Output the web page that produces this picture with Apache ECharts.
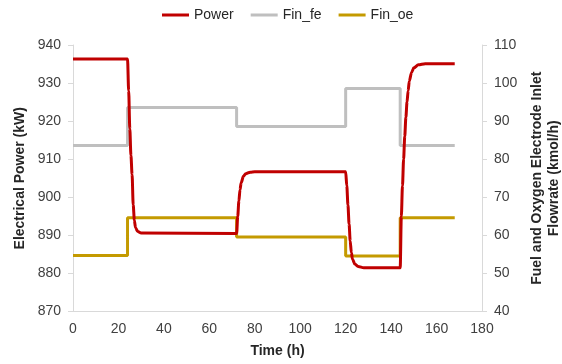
<!DOCTYPE html>
<html><head><meta charset="utf-8">
<script src="https://cdn.jsdelivr.net/npm/echarts@6/dist/echarts.min.js"></script>
<style>html,body{margin:0;padding:0;background:#fff}#c{width:562px;height:364px}</style>
</head><body><div id="c"></div>
<script>
// Power (kW) readings: [time h, kW]
const powerTime = [0,24,24.5,25,25.5,26,26.5,27,27.5,28.5,30,72,72.5,73,73.5,74,75,76,78,80,120,120.5,121,121.5,122,122.5,123,124,125.5,128,144,144.5,145,145.5,146,146.5,147,147.5,148,149,150,152,155,168];
const powerVal  = [936.3,936.3,928,918,911,906,898,894,892,891,890.6,890.5,895,899,902,903.8,905.5,906.2,906.6,906.7,906.7,903,898,893,888.5,885.5,883.8,882.5,881.8,881.5,881.5,895,903,910,916,921,925,928,930.5,932.8,934,934.8,935.1,935.1];
// Flowrates (kmol/h), step changes at these times
const stepTime = [0,24,72,120,144,168];
const finFe = [83.6,93.6,88.6,98.6,83.6,83.6];
const finOe = [54.7,64.6,59.6,54.6,64.6,64.6];
const xTicks = {min:0,max:180,interval:20};
const yLeft = {min:870,max:940,interval:10};
const yRight = {min:40,max:110,interval:10};

const zip = (a,b)=>a.map((v,i)=>[v,b[i]]);
const chart = echarts.init(document.getElementById('c'));
const axisLineC = '#D9D9D9';
const lbl = {color:'#404040',fontSize:14,fontFamily:'Liberation Sans, Arial'};
const nm = {color:'#262626',fontSize:14,fontWeight:'bold',fontFamily:'Liberation Sans, Arial'};
chart.setOption({
  animation:false,
  grid:{left:73,right:80,top:45,bottom:52.5,outerBoundsMode:'none',containLabel:false},
  legend:{left:157,top:3,itemWidth:27,itemHeight:3,itemGap:17,icon:'rect',
    textStyle:{color:'#262626',fontSize:14,fontFamily:'Liberation Sans, Arial'},
    data:['Power','Fin_fe','Fin_oe']},
  xAxis:{type:'value',min:xTicks.min,max:xTicks.max,interval:xTicks.interval,
    name:'Time (h)',nameLocation:'middle',nameGap:33,nameTextStyle:nm,
    axisLine:{lineStyle:{color:axisLineC}},axisTick:{show:false},
    splitLine:{show:false},axisLabel:Object.assign({margin:11},lbl)},
  yAxis:[
    {type:'value',min:yLeft.min,max:yLeft.max,interval:yLeft.interval,
     name:'Electrical Power (kW)',nameLocation:'middle',nameGap:40,nameRotate:90,nameTextStyle:nm,
     axisLine:{show:true,lineStyle:{color:axisLineC}},axisTick:{show:true,length:5,lineStyle:{color:axisLineC}},
     splitLine:{show:false},axisLabel:Object.assign({margin:12},lbl)},
    {type:'value',min:yRight.min,max:yRight.max,interval:yRight.interval,position:'right',
     name:'Fuel and Oxygen Electrode Inlet\nFlowrate (kmol/h)',nameLocation:'middle',nameGap:30,nameRotate:90,
     nameTextStyle:Object.assign({lineHeight:17},nm),
     axisLine:{show:true,lineStyle:{color:axisLineC}},axisTick:{show:true,length:5,lineStyle:{color:axisLineC}},
     splitLine:{show:false},axisLabel:Object.assign({margin:12},lbl)}
  ],
  series:[
    {name:'Power',type:'line',yAxisIndex:0,data:zip(powerTime,powerVal),showSymbol:false,smooth:0.3,smoothMonotone:'x',
     lineStyle:{color:'#C00000',width:3},itemStyle:{color:'#C00000'},z:3},
    {name:'Fin_fe',type:'line',yAxisIndex:1,data:zip(stepTime,finFe),step:'end',showSymbol:false,
     lineStyle:{color:'#BFBFBF',width:3},itemStyle:{color:'#BFBFBF'},z:2},
    {name:'Fin_oe',type:'line',yAxisIndex:1,data:zip(stepTime,finOe),step:'end',showSymbol:false,
     lineStyle:{color:'#C49A00',width:3},itemStyle:{color:'#C49A00'},z:2}
  ]
});
</script></body></html>
